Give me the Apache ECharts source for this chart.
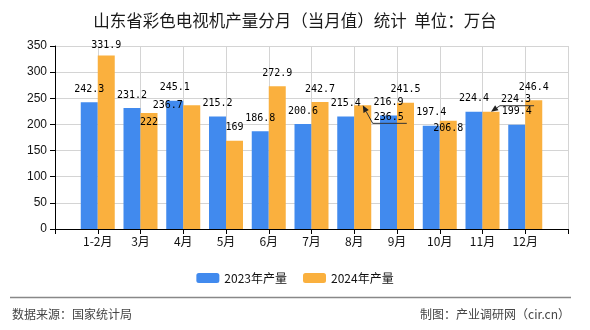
<!DOCTYPE html>
<html>
<head>
<meta charset="utf-8">
<script src="https://cdn.jsdelivr.net/npm/echarts@6/dist/echarts.min.js"></script>
<style>
html,body{margin:0;padding:0;background:#fff;}
#chart{width:590px;height:330px;}
</style>
</head>
<body>
<div id="chart"></div>
<script>
const months = ['1-2月','3月','4月','5月','6月','7月','8月','9月','10月','11月','12月'];
const output2023 = [242.3, 231.2, 245.1, 215.2, 186.8, 200.6, 215.4, 216.9, 197.4, 224.4, 199.4];
const output2024 = [331.9, 222, 236.7, 169, 272.9, 242.7, 236.5, 241.5, 206.8, 224.3, 246.4];
const yTicks = [0, 50, 100, 150, 200, 250, 300, 350];

// padded category axis (empty slots at both ends, as in the reference)
const cats = [''].concat(months, ['']);
const pad = arr => [null].concat(arr, [null]);

// manual label displacement for the 2024 series (style only)
const shift2024 = {1: [0, 3], 2: [0, 22], 3: [-24, 13], 7: [26, 25], 9: [0, 21], 10: [25, 1]};
const guided2024 = [7, 10];
const guides = {};

const labelFont = {fontFamily: 'DejaVu Sans Mono', fontSize: 10, color: '#000'};
const cjk = '"Noto Sans CJK SC", "Liberation Sans", sans-serif';

const footer = [
  {type: 'line', shape: {x1: 10, y1: 297.5, x2: 571, y2: 297.5}, style: {stroke: '#888', lineWidth: 1.5}},
  {type: 'text', left: 12, top: 308, style: {text: '数据来源：国家统计局', font: '12px ' + cjk, fill: '#444'}},
  {type: 'text', right: 20, top: 308, style: {text: '制图：产业调研网（cir.cn）', font: '12px ' + cjk, fill: '#444'}}
];

const chart = echarts.init(document.getElementById('chart'), null, {renderer: 'canvas'});
chart.setOption({
  animation: false,
  backgroundColor: '#fff',
  title: {
    text: '山东省彩色电视机产量分月（当月值）统计  单位：万台',
    left: 'center', top: 7,
    textStyle: {fontFamily: cjk, fontSize: 16.5, fontWeight: 'normal', color: '#1a1a1a'}
  },
  legend: {
    top: 267, left: 'center',
    itemWidth: 23, itemHeight: 10, itemGap: 16,
    textStyle: {fontFamily: cjk, fontSize: 12, color: '#111'},
    data: ['2023年产量', '2024年产量']
  },
  grid: {left: 55, right: 22, top: 46, bottom: 101, containLabel: false},
  xAxis: {
    type: 'category', data: cats, boundaryGap: false,
    axisLine: {lineStyle: {color: '#000'}},
    axisTick: {show: true, length: 5, lineStyle: {color: '#000'}},
    axisLabel: {fontFamily: cjk, fontSize: 12, color: '#111', margin: 6, interval: 0},
    splitLine: {show: true, lineStyle: {color: '#d4d4d4'}}
  },
  yAxis: {
    type: 'value', min: yTicks[0], max: yTicks[yTicks.length - 1], interval: 50,
    axisLine: {show: true, lineStyle: {color: '#000'}},
    axisTick: {show: true, length: 5, lineStyle: {color: '#000'}},
    axisLabel: {fontFamily: '"Liberation Sans", Arial, sans-serif', fontSize: 12, color: '#111', margin: 8},
    splitLine: {show: true, lineStyle: {color: '#d4d4d4'}}
  },
  series: [
    {
      name: '2023年产量', type: 'bar', data: pad(output2023),
      barWidth: 17, barGap: '0%',
      itemStyle: {color: '#418AEE'},
      label: Object.assign({show: true, position: 'top', distance: 8}, labelFont)
    },
    {
      name: '2024年产量', type: 'bar', data: pad(output2024),
      barWidth: 17, barGap: '0%',
      itemStyle: {color: '#FAB03E'},
      label: Object.assign({show: true, position: 'top', distance: 8}, labelFont),
      labelLayout: function (p) {
        const s = shift2024[p.dataIndex];
        if (!s) return {};
        if (guided2024.includes(p.dataIndex)) {
          const r = p.rect, lr = p.labelRect;
          const nx = lr.x + s[0], ny = lr.y + s[1];
          guides[p.dataIndex] = [
            [r.x + r.width / 2, r.y],
            [nx - 1, ny + lr.height + 1],
            [nx + lr.width + 3, ny + lr.height + 1]
          ];
        }
        return {dx: s[0], dy: s[1]};
      }
    }
  ],
  graphic: footer
});

// guide lines with arrowheads, derived from the library's own label layout
const extra = [];
Object.keys(guides).forEach(k => {
  const pts = guides[k];
  const a = pts[0], b = pts[1];
  const dx = a[0] - b[0], dy = a[1] - b[1];
  const len = Math.sqrt(dx * dx + dy * dy) || 1;
  const ux = dx / len, uy = dy / len;
  const hl = 7, hw = 3;
  const base = [a[0] - ux * hl, a[1] - uy * hl];
  extra.push({type: 'polyline', shape: {points: [base, b, pts[2]]}, style: {stroke: '#333', lineWidth: 1, fill: null}, z: 10});
  extra.push({type: 'polygon', shape: {points: [a, [base[0] - uy * hw, base[1] + ux * hw], [base[0] + uy * hw, base[1] - ux * hw]]}, style: {fill: '#222'}, z: 10});
});
chart.setOption({graphic: footer.concat(extra)});
</script>
</body>
</html>
